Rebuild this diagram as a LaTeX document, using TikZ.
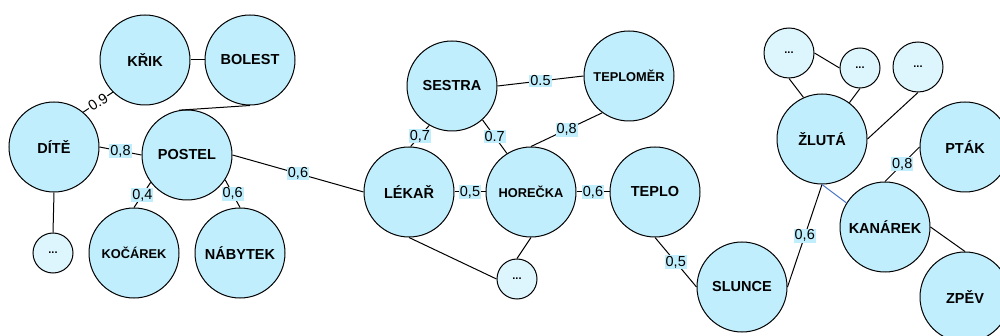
\documentclass[tikz,border=0pt]{standalone}
\usepackage{fontspec}
\setmainfont{Liberation Sans}
\definecolor{conceptfill}{HTML}{C1EEFD}
\definecolor{morefill}{HTML}{DDF6FD}
\definecolor{linkblue}{HTML}{4A78C8}
\tikzset{
	concept/.style={circle, draw, fill=conceptfill, minimum size=90pt,
			inner sep=0pt, font=\bfseries\fontsize{14.5}{16}\selectfont},
	small/.style={font=\bfseries\fontsize{12.8}{14}\selectfont},
	more/.style={circle, draw, fill=morefill, minimum size=40pt,
			inner sep=0pt, font=\bfseries\fontsize{11}{12}\selectfont},
	weight/.style={fill=conceptfill, inner sep=1pt,
			font=\fontsize{14.5}{16}\selectfont},
}
\begin{document}
\begin{tikzpicture}[x=1pt, y=-1pt, line width=1pt]
	\useasboundingbox (0,0) rectangle (1000,336);

	% left cluster
	\node[concept] (krik) at (145,60) {KŘIK};
	\node[concept] (bolest) at (250,60) {BOLEST};
	\node[concept] (dite) at (54,147) {DÍTĚ};
	\node[concept] (postel) at (187,155) {POSTEL};
	\node[concept, small] (kocarek) at (134,253) {KOČÁREK};
	\node[concept] (nabytek) at (240,253) {NÁBYTEK};
	\node[more] (ditemore) at (53,253) {...};

	% middle cluster
	\node[concept] (sestra) at (452,86) {SESTRA};
	\node[concept, small] (teplomer) at (629,76) {TEPLOMĚR};
	\node[concept] (lekar) at (409,192) {LÉKAŘ};
	\node[concept, small] (horecka) at (531,192) {HOREČKA};
	\node[concept] (teplo) at (655,192) {TEPLO};
	\node[more] (lekarmore) at (517,279) {...};

	% right cluster
	\node[concept] (slunce) at (742,287) {SLUNCE};
	\node[concept] (zluta) at (822,139) {ŽLUTÁ};
	\node[concept] (ptak) at (965,147) {PTÁK};
	\node[concept] (kanarek) at (885,227) {KANÁREK};
	\node[concept] (zpev) at (965,297) {ZPĚV};
	\node[more, minimum size=50pt] (zlutamoreA) at (789,53) {...};
	\node[more] (zlutamoreB) at (860,68) {...};
	\node[more, minimum size=50pt] (zlutamoreC) at (918,67) {...};

	\draw (krik.east) -- (bolest.west);
	\draw (dite.50) -- node[sloped, fill=white, inner sep=1pt,
			font=\fontsize{14.5}{16}\selectfont] {0.9} (krik.225);
	\draw (bolest.south) -- (postel.100);
	\draw (dite.east) -- node[weight] {0,8} (postel.west);
	\draw (dite.south) -- (ditemore.north);
	\draw (postel.217) -- node[weight] {0,4} (kocarek.north);
	\draw (postel.327) -- node[weight] {0,6} (nabytek.north);
	\draw (postel.east) -- node[weight] {0,6} (lekar.west);

	\draw (sestra.240) -- node[weight] {0,7} (lekar.88);
	\draw (sestra.312) -- node[weight] {0.7} (horecka.122);
	\draw (sestra.east) -- node[weight] {0.5} (teplomer.west);
	\draw (teplomer.234) -- node[weight] {0,8} (horecka.north);
	\draw (lekar.east) -- node[weight] {0,5} (horecka.west);
	\draw (horecka.east) -- node[weight] {0,6} (teplo.west);
	\draw (lekar.south) -- (lekarmore.west);
	\draw (horecka.south) -- (lekarmore.north);
	\draw (teplo.south) -- node[weight] {0,5} (slunce.west);

	\draw (slunce.east) -- node[weight] {0,6} (zluta.south);
	\draw[linkblue] (zluta.south) -- (kanarek.148);
	\draw (kanarek.north) -- node[weight] {0,8} (ptak.west);
	\draw (kanarek.east) -- (zpev.north);
	\draw (zlutamoreA.south) -- (zluta.114);
	\draw (zlutamoreA.east) -- (zlutamoreB.west);
	\draw (zlutamoreB.south) -- (zluta.53);
	\draw (zlutamoreC.south) -- (zluta.east);
\end{tikzpicture}
\end{document}
